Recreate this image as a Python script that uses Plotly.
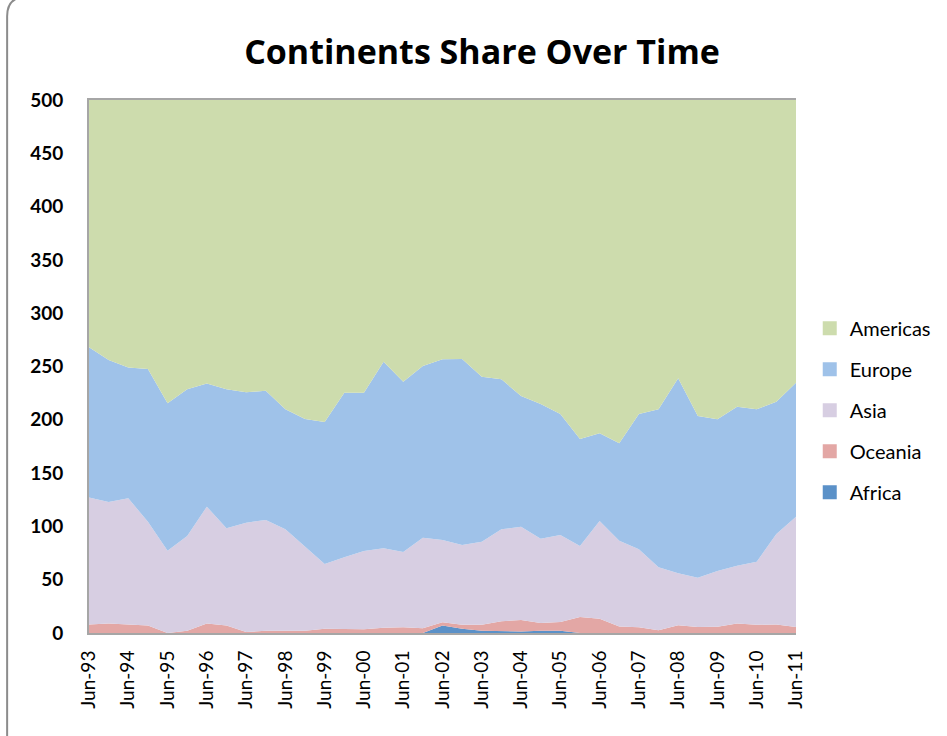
import plotly.graph_objects as go

# Half-yearly observations, Jun-93 .. Jun-11
periods = ["Jun-93", "Dec-93", "Jun-94", "Dec-94", "Jun-95", "Dec-95", "Jun-96", "Dec-96",
           "Jun-97", "Dec-97", "Jun-98", "Dec-98", "Jun-99", "Dec-99", "Jun-00", "Dec-00",
           "Jun-01", "Dec-01", "Jun-02", "Dec-02", "Jun-03", "Dec-03", "Jun-04", "Dec-04",
           "Jun-05", "Dec-05", "Jun-06", "Dec-06", "Jun-07", "Dec-07", "Jun-08", "Dec-08",
           "Jun-09", "Dec-09", "Jun-10", "Dec-10", "Jun-11"]

africa = [0, 0, 0, 0, 0, 0, 0.3, 0.5, 0, 0, 0, 0, 0, 0, 0, 0, 0, 0,
          7, 4, 2, 1.5, 1.5, 2, 2, 0, 0, 0.5, 0, 0, 0, 0, 0, 0, 0, 0, 0]
oceania = [8, 9, 8, 7, 0, 2, 8.7, 6.5, 1, 2, 2, 2, 4, 4, 3.5, 5, 5.5, 4.5,
           3, 3.8, 5.8, 9.5, 10.7, 7.4, 8.3, 15, 13.4, 5.7, 5.3, 2.5, 7.2, 5.6, 5.9, 9, 7.8, 8, 5.6]
asia = [119, 114, 118.3, 97.4, 77.2, 89, 109.5, 91.2, 102.5, 104, 95.3, 79, 60.7, 67, 73.5, 74.5,
        70.5, 84.9, 77.2, 74.8, 77.9, 86.3, 87.5, 79.1, 81.7, 66.6, 91.6, 80.4, 73.2, 59.1,
        48.8, 46.3, 52.3, 54.1, 59.1, 84.9, 103.4]
europe = [141, 133, 122.7, 143.2, 138.3, 137.6, 115.5, 130.4, 122.3, 121.3, 112.7, 119.7, 133.3,
          154.4, 148.4, 175, 159.8, 161.1, 169.5, 174.4, 154.7, 140.7, 122.6, 126.3, 113.4,
          100.4, 82.3, 91.4, 126.9, 148.2, 183, 151.7, 142.2, 149.2, 142.9, 124.1, 125.8]
americas = [232, 244, 251, 252.4, 284.5, 271.4, 266, 271.4, 274.2, 272.7, 290, 299.3, 302,
            274.6, 274.6, 245.5, 264.2, 249.5, 243.3, 243, 259.6, 262, 277.7, 285.2, 294.6,
            318, 312.7, 322, 294.6, 290.2, 261, 296.4, 299.6, 287.7, 290.2, 283, 265.2]

# stacked bottom to top
series = [
    ("Africa", africa, "#5B91C8"),
    ("Oceania", oceania, "#E3A7A5"),
    ("Asia", asia, "#D7CEE2"),
    ("Europe", europe, "#9FC2E9"),
    ("Americas", americas, "#CDDCAD"),
]

x_idx = list(range(len(periods)))
tick_idx = x_idx[::2]
tick_text = periods[::2]

FONT = "Lato"

fig = go.Figure()
for name, vals, color in series:
    fig.add_trace(go.Scatter(
        x=x_idx, y=vals, name=name, stackgroup="one", mode="lines",
        line=dict(width=0, color=color), fillcolor=color,
        showlegend=False, hoverinfo="skip",
    ))
# square legend keys, listed top series first
for name, vals, color in reversed(series):
    fig.add_trace(go.Scatter(
        x=[None], y=[None], name=name, mode="markers", legendgroup=name,
        marker=dict(symbol="square", size=14, color=color),
        showlegend=True,
    ))

fig.update_layout(
    width=947, height=736,
    margin=dict(l=89, r=150, t=100, b=103),
    paper_bgcolor="white", plot_bgcolor="white",
    title=dict(text="<b>Continents Share Over Time</b>", x=0.509, xanchor="center",
               y=0.929, yanchor="middle",
               font=dict(family="Open Sans", size=34, color="black")),
    font=dict(family=FONT, color="black"),
    legend=dict(x=1.018, xanchor="left", y=0.418, yanchor="middle",
                traceorder="grouped", tracegroupgap=12,
                font=dict(family=FONT, size=20, color="black"),
                itemwidth=30, bgcolor="rgba(0,0,0,0)"),
    showlegend=True,
)
fig.update_xaxes(
    range=[0, 36], tickvals=tick_idx, ticktext=tick_text, tickangle=-90,
    tickfont=dict(family=FONT, size=19, color="black"),
    showgrid=False, zeroline=False, showline=True, mirror=True,
    linecolor="#A6A6A6", linewidth=2, ticks="", ticklabelstandoff=8,
    tickprefix="<b>", ticksuffix="</b>",
)
fig.update_yaxes(
    range=[0, 500], dtick=50, tick0=0,
    tickfont=dict(family=FONT, size=19, color="black"),
    showgrid=False, zeroline=False, showline=True,
    linecolor="#A6A6A6", linewidth=2, ticks="", ticklabelstandoff=20,
    tickprefix="<b>", ticksuffix="</b>",
)

# rounded chart-area border
fig.add_shape(
    type="path", xref="paper", yref="paper", layer="above",
    path="M -0.1158,-0.2 L -0.1158,1.157 Q -0.1158,1.194 -0.0875,1.194 L 1.2,1.194 "
         "Q 1.2305,1.194 1.2305,1.157 L 1.2305,-0.2",
    line=dict(color="#8C8C8C", width=2),
)

fig.write_html("out.html")
